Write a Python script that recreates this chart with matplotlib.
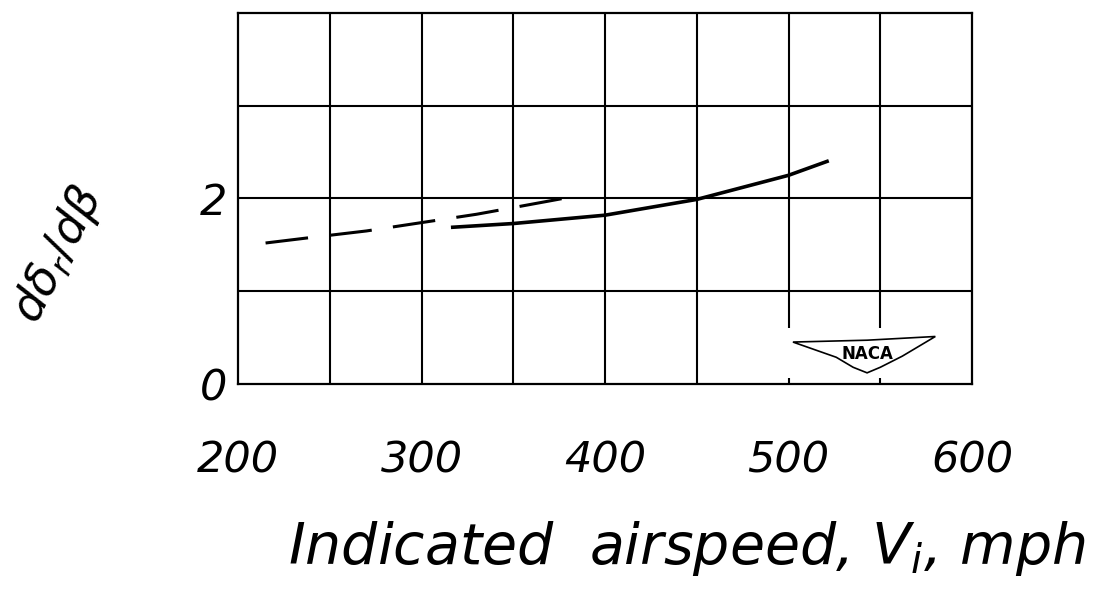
## hand-drawn NACA style chart: d(delta r)/d(beta) vs indicated airspeed
import matplotlib.pyplot as plt
from matplotlib.patches import Polygon

plt.rcParams['font.family'] = ['DejaVu Sans']
plt.rcParams['mathtext.fontset'] = 'dejavusans'

## dados
vel_tracejada = [215, 240, 270, 300, 330, 355, 377]
val_tracejada = [1.52, 1.58, 1.65, 1.74, 1.83, 1.92, 2.00]
vel_cheia = [317, 350, 400, 450, 500, 521]
val_cheia = [1.69, 1.73, 1.82, 1.99, 2.25, 2.40]
xticks = [200, 300, 400, 500, 600]
yticks = [0, 2]
xgrade = [250, 300, 350, 400, 450, 500, 550]
ygrade = [1, 2, 3]

fig = plt.figure(figsize=(11.16, 5.91), dpi=100)
ax = fig.add_axes([0.2133, 0.3503, 0.6577, 0.6277])
ax.set_xlim(200, 600)
ax.set_ylim(0, 4)

## grade desenhada a mao (linhas de 500 e 550 param acima do logo)
for xv in xgrade:
    topo_baixo = 0.6 if xv >= 500 else 0
    ax.vlines(xv, topo_baixo, 4, color='black', lw=1.5)
    if xv >= 500:
        ax.vlines(xv, 0, 0.06, color='black', lw=1.5)
ax.hlines(ygrade, 200, 600, color='black', lw=1.5)
for s in ax.spines.values():
    s.set_linewidth(1.6)

ax.plot(vel_tracejada, val_tracejada, color='black', lw=2.2, dashes=(14, 7))
ax.plot(vel_cheia, val_cheia, color='black', lw=2.6)

ax.set_xticks(xticks)
ax.set_xticklabels([str(v) for v in xticks], fontsize=31, style='italic')
ax.set_yticks(yticks)
ax.set_yticklabels([str(v) for v in yticks], fontsize=31, style='italic')
ax.tick_params(axis='x', length=0, pad=40)
ax.tick_params(axis='y', length=0, pad=8)

## logo NACA
asa = Polygon([(0.756, 0.113), (0.857, 0.118), (0.950, 0.128), (0.905, 0.075),
               (0.875, 0.045), (0.857, 0.030), (0.838, 0.045), (0.815, 0.072)],
              closed=True, transform=ax.transAxes, facecolor='white',
              edgecolor='black', lw=1.2, zorder=5)
ax.add_patch(asa)
ax.text(0.857, 0.082, 'NACA', transform=ax.transAxes, ha='center', va='center',
        fontsize=12, fontweight='bold', zorder=6)

fig.text(687 / 1116, 1 - 548 / 591, r'Indicated  airspeed, $V_i$, mph',
         ha='center', va='center', fontsize=41, style='italic')
fig.text(58 / 1116, 1 - 255 / 591, r'$d\delta_r/d\beta$', rotation=63,
         ha='center', va='center', fontsize=33)

fig.savefig('out.png', dpi=100)
